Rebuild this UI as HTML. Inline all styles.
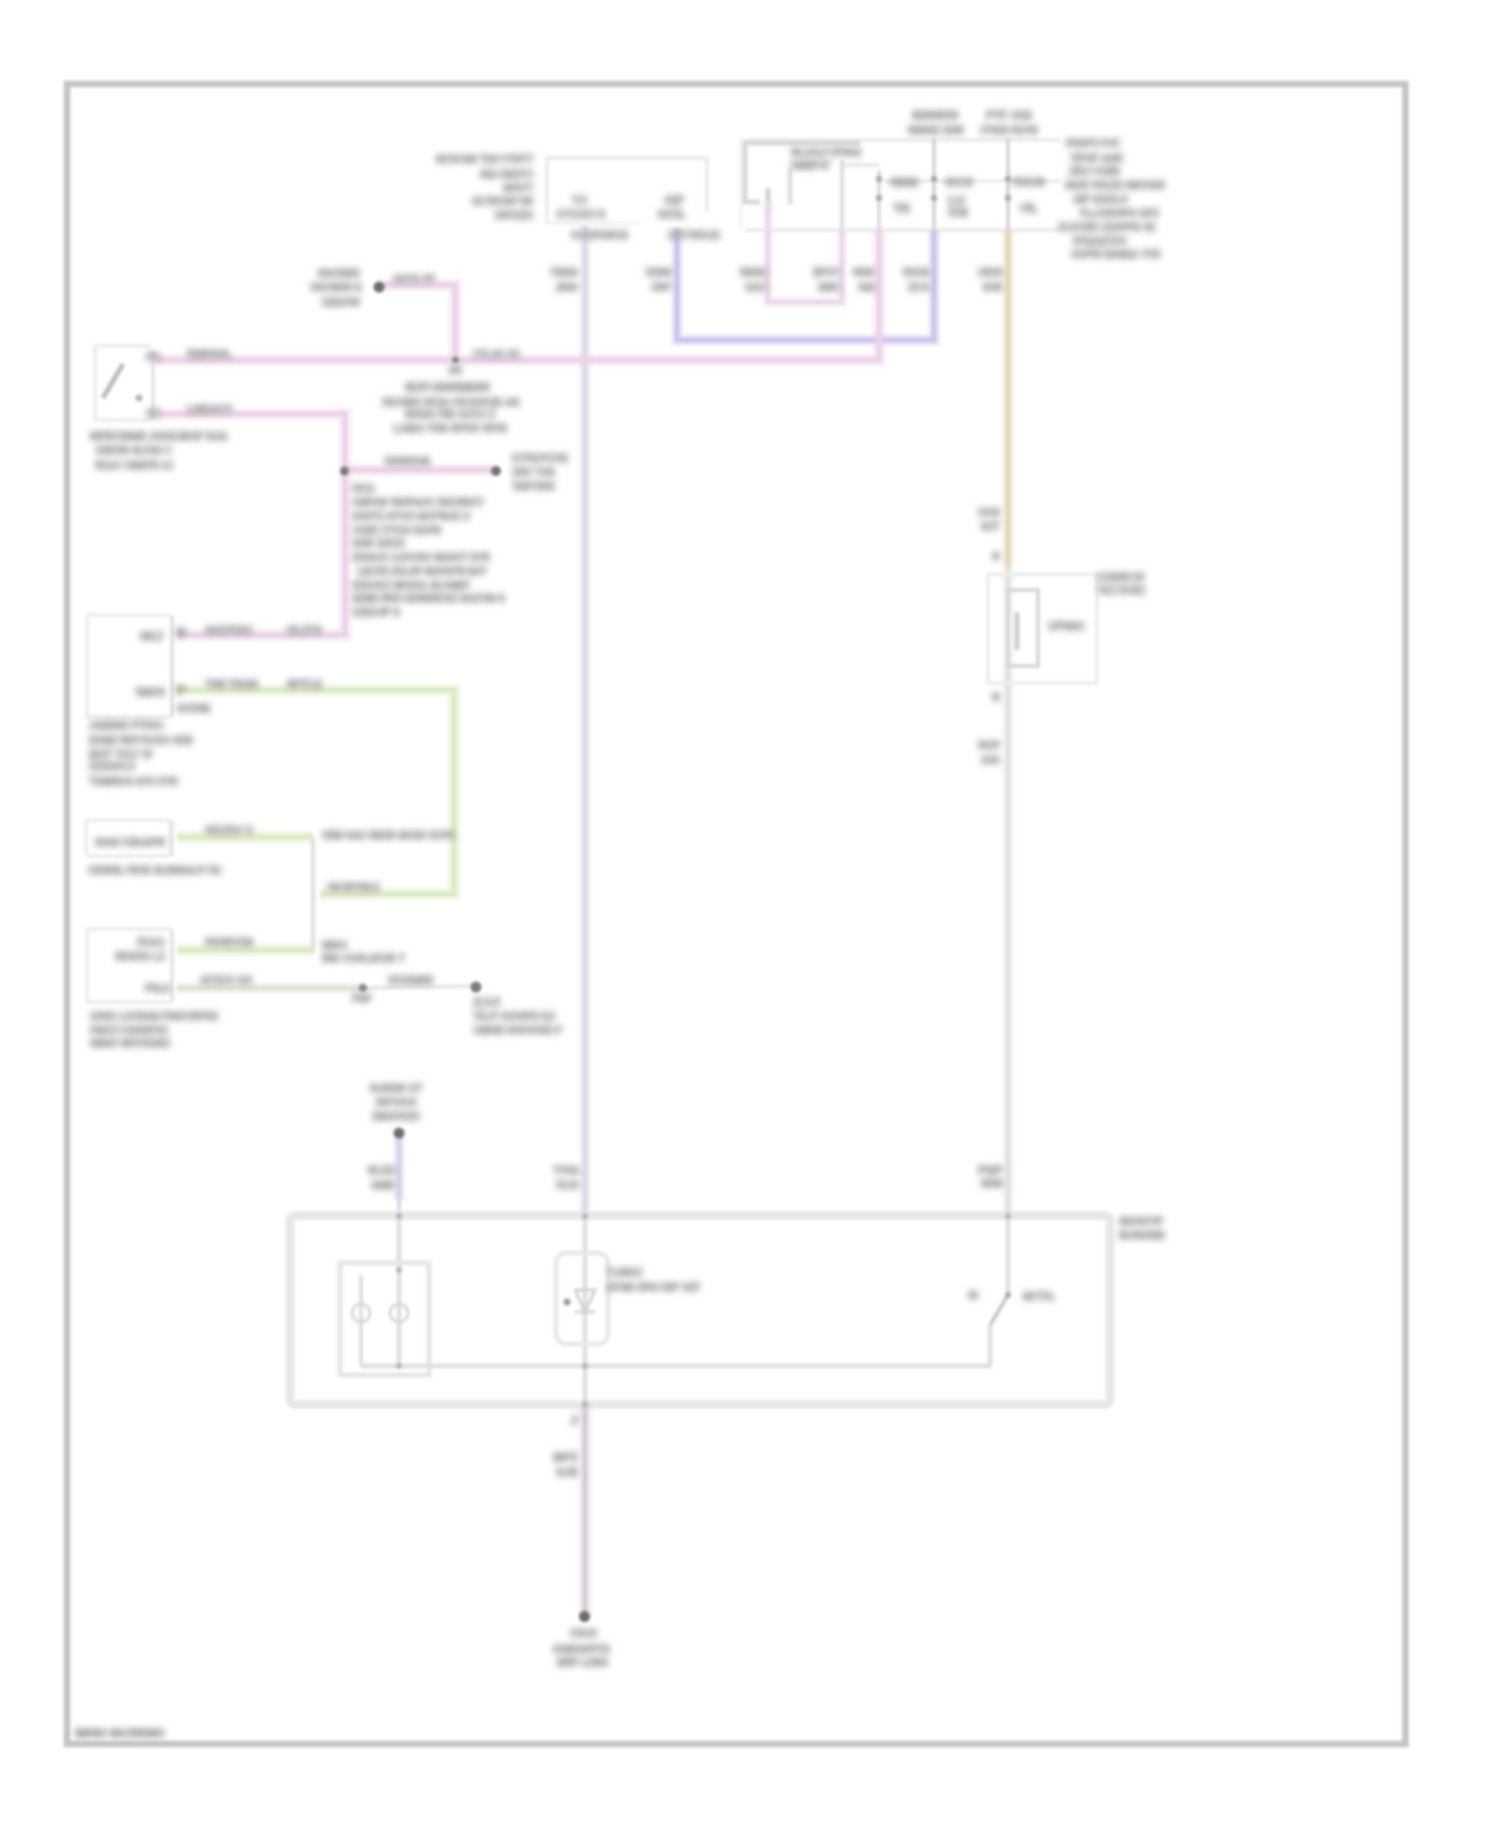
<!DOCTYPE html>
<html><head><meta charset="utf-8"><style>
html,body{margin:0;padding:0;background:#fff;width:1500px;height:1828px;overflow:hidden}
svg{display:block;position:absolute;left:0;top:0}
#L{filter:blur(1.8px)}

text{font-family:"Liberation Sans",sans-serif}
</style></head><body>
<svg id="L" width="1500" height="1828" viewBox="0 0 1500 1828">
<rect x="67" y="84" width="1338.5" height="1660" rx="0" fill="none" stroke="#c4c4c4" stroke-width="6.5" opacity="1"/>
<polyline points="547,224 547,158 707,158 707,212" fill="none" stroke="#ececec" stroke-width="4" opacity="1" stroke-linejoin="miter"/>
<line x1="547" y1="223" x2="640" y2="223" stroke="#f0f0f0" stroke-width="3" opacity="1"/>
<line x1="745" y1="140" x2="1060" y2="140" stroke="#ececec" stroke-width="4" opacity="1"/>
<line x1="745" y1="230" x2="1060" y2="230" stroke="#ececec" stroke-width="4" opacity="1"/>
<polyline points="760,202 745,202 745,143 860,143" fill="none" stroke="#d8d8d8" stroke-width="5" opacity="1" stroke-linejoin="miter"/>
<line x1="741" y1="138" x2="741" y2="230" stroke="#f0f0f0" stroke-width="3" opacity="1"/>
<line x1="790" y1="168" x2="790" y2="205" stroke="#e0e0e0" stroke-width="5" opacity="1"/>
<line x1="768" y1="188" x2="768" y2="214" stroke="#d2d2d2" stroke-width="5" opacity="1"/>
<line x1="842" y1="165" x2="879" y2="165" stroke="#e6e6e6" stroke-width="3.5" opacity="1"/>
<line x1="842" y1="160" x2="842" y2="230" stroke="#dedede" stroke-width="4" opacity="1"/>
<line x1="879" y1="170" x2="879" y2="230" stroke="#dedede" stroke-width="4" opacity="1"/>
<line x1="934" y1="138" x2="934" y2="230" stroke="#d6d6d6" stroke-width="4" opacity="1"/>
<line x1="1008" y1="138" x2="1008" y2="230" stroke="#d6d6d6" stroke-width="4" opacity="1"/>
<line x1="884" y1="181" x2="1060" y2="181" stroke="#e8e8e8" stroke-width="3" opacity="1"/>
<line x1="585" y1="226" x2="585" y2="1216" stroke="#dddae8" stroke-width="12.0" opacity="0.35"/>
<line x1="585" y1="226" x2="585" y2="1216" stroke="#dddae8" stroke-width="5" opacity="1"/>
<polyline points="677,228 677,340 934,340 934,230" fill="none" stroke="#cbc2ec" stroke-width="12.0" opacity="0.35" stroke-linejoin="miter"/>
<polyline points="677,228 677,340 934,340 934,230" fill="none" stroke="#cbc2ec" stroke-width="5" opacity="1" stroke-linejoin="miter"/>
<polyline points="768,200 768,302 842,302 842,230" fill="none" stroke="#ead6ea" stroke-width="10.799999999999999" opacity="0.3" stroke-linejoin="miter"/>
<polyline points="768,200 768,302 842,302 842,230" fill="none" stroke="#ead6ea" stroke-width="4.5" opacity="1" stroke-linejoin="miter"/>
<polyline points="157,360 879,360 879,230" fill="none" stroke="#ecd2e8" stroke-width="13.2" opacity="0.35" stroke-linejoin="miter"/>
<polyline points="157,360 879,360 879,230" fill="none" stroke="#ecd2e8" stroke-width="5.5" opacity="1" stroke-linejoin="miter"/>
<line x1="1008" y1="230" x2="1008" y2="566" stroke="#e8d4b8" stroke-width="12.0" opacity="0.35"/>
<line x1="1008" y1="230" x2="1008" y2="566" stroke="#e8d4b8" stroke-width="5" opacity="1"/>
<line x1="1008" y1="566" x2="1008" y2="1216" stroke="#e2e0dc" stroke-width="12.0" opacity="0.3"/>
<line x1="1008" y1="566" x2="1008" y2="1216" stroke="#e2e0dc" stroke-width="5" opacity="1"/>
<polyline points="379,285 455,285 455,360" fill="none" stroke="#ecd2e8" stroke-width="13.2" opacity="0.35" stroke-linejoin="miter"/>
<polyline points="379,285 455,285 455,360" fill="none" stroke="#ecd2e8" stroke-width="5.5" opacity="1" stroke-linejoin="miter"/>
<polyline points="150,346 95,346 95,420 150,420" fill="none" stroke="#eeeeee" stroke-width="4" opacity="1" stroke-linejoin="miter"/>
<line x1="103" y1="398" x2="123" y2="364" stroke="#bcbcbc" stroke-width="5" opacity="1"/>
<line x1="153" y1="350" x2="153" y2="420" stroke="#e6e6e6" stroke-width="4" opacity="1"/>
<polyline points="157,414 345,414 345,635 177,635" fill="none" stroke="#ecd2e8" stroke-width="13.2" opacity="0.35" stroke-linejoin="miter"/>
<polyline points="157,414 345,414 345,635 177,635" fill="none" stroke="#ecd2e8" stroke-width="5.5" opacity="1" stroke-linejoin="miter"/>
<line x1="345" y1="470" x2="495" y2="470" stroke="#ecd2e8" stroke-width="13.2" opacity="0.35"/>
<line x1="345" y1="470" x2="495" y2="470" stroke="#ecd2e8" stroke-width="5.5" opacity="1"/>
<polyline points="170,615 87,615 87,717 170,717" fill="none" stroke="#ececec" stroke-width="3.5" opacity="1" stroke-linejoin="miter"/>
<line x1="172" y1="615" x2="172" y2="717" stroke="#e0e0e0" stroke-width="4" opacity="1"/>
<polyline points="177,690 454,690 454,894 320,894" fill="none" stroke="#dcebc4" stroke-width="13.2" opacity="0.35" stroke-linejoin="miter"/>
<polyline points="177,690 454,690 454,894 320,894" fill="none" stroke="#dcebc4" stroke-width="5.5" opacity="1" stroke-linejoin="miter"/>
<rect x="86" y="820" width="84" height="36" rx="3" fill="none" stroke="#ececec" stroke-width="3.5" opacity="1"/>
<line x1="172" y1="820" x2="172" y2="856" stroke="#e6e6e6" stroke-width="4" opacity="1"/>
<line x1="177" y1="837" x2="313" y2="837" stroke="#dcebc4" stroke-width="13.2" opacity="0.35"/>
<line x1="177" y1="837" x2="313" y2="837" stroke="#dcebc4" stroke-width="5.5" opacity="1"/>
<line x1="313" y1="837" x2="313" y2="953" stroke="#e2e2e2" stroke-width="4.5" opacity="1"/>
<polyline points="172,929 87,929 87,1002 172,1002" fill="none" stroke="#ececec" stroke-width="3.5" opacity="1" stroke-linejoin="miter"/>
<line x1="172" y1="929" x2="172" y2="1002" stroke="#e6e6e6" stroke-width="4" opacity="1"/>
<line x1="177" y1="950" x2="313" y2="950" stroke="#dcebc4" stroke-width="13.2" opacity="0.35"/>
<line x1="177" y1="950" x2="313" y2="950" stroke="#dcebc4" stroke-width="5.5" opacity="1"/>
<line x1="177" y1="988" x2="363" y2="988" stroke="#dde2d4" stroke-width="12.0" opacity="0.3"/>
<line x1="177" y1="988" x2="363" y2="988" stroke="#dde2d4" stroke-width="5" opacity="1"/>
<line x1="363" y1="988" x2="476" y2="986" stroke="#e4e4e4" stroke-width="3.5" opacity="1"/>
<line x1="399" y1="1132" x2="399" y2="1200" stroke="#d6d0ec" stroke-width="12.0" opacity="0.35"/>
<line x1="399" y1="1132" x2="399" y2="1200" stroke="#d6d0ec" stroke-width="5" opacity="1"/>
<line x1="399" y1="1200" x2="399" y2="1216" stroke="#dcd8e4" stroke-width="4" opacity="1"/>
<rect x="290" y="1215.5" width="820" height="189.0" rx="5" fill="none" stroke="#e8e8e8" stroke-width="9" opacity="1"/>
<line x1="399" y1="1216" x2="399" y2="1366" stroke="#dedede" stroke-width="4.5" opacity="1"/>
<line x1="585" y1="1216" x2="585" y2="1404" stroke="#dedede" stroke-width="4.5" opacity="1"/>
<line x1="1008" y1="1216" x2="1008" y2="1295" stroke="#dedede" stroke-width="4.5" opacity="1"/>
<rect x="340" y="1263" width="89" height="112" rx="0" fill="none" stroke="#e6e6e6" stroke-width="5" opacity="1"/>
<line x1="361" y1="1275" x2="361" y2="1366" stroke="#dedede" stroke-width="4" opacity="1"/>
<circle cx="361" cy="1313" r="9" fill="none" stroke="#d8d8d8" stroke-width="3"/>
<circle cx="399" cy="1313" r="9" fill="none" stroke="#d8d8d8" stroke-width="3"/>
<line x1="361" y1="1366" x2="992" y2="1366" stroke="#dedede" stroke-width="4.5" opacity="1"/>
<rect x="556" y="1253" width="52" height="91" rx="10" fill="none" stroke="#e8e8e8" stroke-width="4.5" opacity="1"/>
<polyline points="575,1290 595,1290 585,1312 575,1290" fill="none" stroke="#d0d0d0" stroke-width="3" opacity="1" stroke-linejoin="miter"/>
<line x1="575" y1="1312" x2="595" y2="1312" stroke="#d0d0d0" stroke-width="3" opacity="1"/>
<line x1="1008" y1="1295" x2="990" y2="1325" stroke="#c4c4c4" stroke-width="3.5" opacity="1"/>
<line x1="990" y1="1325" x2="990" y2="1366" stroke="#dedede" stroke-width="4.5" opacity="1"/>
<line x1="585" y1="1404" x2="585" y2="1616" stroke="#d6ccd4" stroke-width="13.2" opacity="0.3"/>
<line x1="585" y1="1404" x2="585" y2="1616" stroke="#d6ccd4" stroke-width="5.5" opacity="1"/>
<rect x="988" y="574" width="109" height="109" rx="0" fill="none" stroke="#ececec" stroke-width="3.5" opacity="1"/>
<rect x="1008" y="590" width="30" height="76" rx="0" fill="none" stroke="#d8d8d8" stroke-width="4" opacity="1"/>
<line x1="1017" y1="612" x2="1017" y2="650" stroke="#cfcfcf" stroke-width="5" opacity="1"/>
<circle cx="879" cy="179" r="3.2" fill="#a8a8a8"/>
<circle cx="879" cy="198" r="3.2" fill="#acacac"/>
<circle cx="934" cy="179" r="3.2" fill="#a8a8a8"/>
<circle cx="934" cy="198" r="3.2" fill="#acacac"/>
<circle cx="1008" cy="179" r="3.2" fill="#a8a8a8"/>
<circle cx="1008" cy="198" r="3.2" fill="#acacac"/>
<circle cx="379" cy="287" r="5.5" fill="#6c6c6c"/>
<circle cx="455.5" cy="360" r="3.6" fill="#8c8c8c"/>
<circle cx="139" cy="398" r="3.5" fill="#b4b4b4"/>
<circle cx="344.5" cy="471" r="4.5" fill="#7c7c7c"/>
<circle cx="496" cy="471" r="5" fill="#747474"/>
<circle cx="363" cy="988" r="4.2" fill="#8a8a8a"/>
<circle cx="476" cy="987" r="5.5" fill="#7c7c7c"/>
<circle cx="399" cy="1133" r="5.5" fill="#707070"/>
<circle cx="567" cy="1302" r="3.5" fill="#9a9a9a"/>
<circle cx="1008" cy="1295" r="3" fill="#a8a8a8"/>
<circle cx="399" cy="1216" r="3" fill="#b4b4b4"/>
<circle cx="585" cy="1216" r="3" fill="#b4b4b4"/>
<circle cx="1008" cy="1216" r="3" fill="#b4b4b4"/>
<circle cx="399" cy="1270" r="3" fill="#b4b4b4"/>
<circle cx="399" cy="1366" r="3" fill="#b4b4b4"/>
<circle cx="585" cy="1366" r="3" fill="#b4b4b4"/>
<circle cx="585" cy="1404" r="3" fill="#b4b4b4"/>
<circle cx="584.5" cy="1616.5" r="5.5" fill="#6c6c6c"/>
</svg>
<svg id="T" width="1500" height="1828" viewBox="0 0 1500 1828">
<defs><filter id="tb" x="0" y="0" width="1500" height="1828" filterUnits="userSpaceOnUse"><feGaussianBlur stdDeviation="3.2 3.3"/></filter></defs>
<g filter="url(#tb)">
<text x="75" y="1737.2" textLength="90" lengthAdjust="spacingAndGlyphs" fill="#a0a0a0" stroke="#a0a0a0" stroke-width="1.3" font-size="10.5" font-weight="bold">EMVBC SDLTBRGBC</text>
<text x="436" y="163.2" textLength="97" lengthAdjust="spacingAndGlyphs" fill="#a8a8a8" stroke="#a8a8a8" stroke-width="1.3" font-size="10.5" font-weight="bold">NCHCSN TDH VTBTT</text>
<text x="480" y="178.2" textLength="53" lengthAdjust="spacingAndGlyphs" fill="#a8a8a8" stroke="#a8a8a8" stroke-width="1.3" font-size="10.5" font-weight="bold">SEJ ESDTJ</text>
<text x="503" y="192.2" textLength="30" lengthAdjust="spacingAndGlyphs" fill="#a8a8a8" stroke="#a8a8a8" stroke-width="1.3" font-size="10.5" font-weight="bold">WFDTT</text>
<text x="472" y="205.2" textLength="61" lengthAdjust="spacingAndGlyphs" fill="#a8a8a8" stroke="#a8a8a8" stroke-width="1.3" font-size="10.5" font-weight="bold">XCTBUGP SN</text>
<text x="495" y="219.2" textLength="38" lengthAdjust="spacingAndGlyphs" fill="#a8a8a8" stroke="#a8a8a8" stroke-width="1.3" font-size="10.5" font-weight="bold">HFXZH</text>
<text x="572" y="204.2" textLength="15" lengthAdjust="spacingAndGlyphs" fill="#a8a8a8" stroke="#a8a8a8" stroke-width="1.3" font-size="10.5" font-weight="bold">TJ</text>
<text x="557" y="218.2" textLength="48" lengthAdjust="spacingAndGlyphs" fill="#a8a8a8" stroke="#a8a8a8" stroke-width="1.3" font-size="10.5" font-weight="bold">KYOJUC R</text>
<text x="665" y="204.2" textLength="19" lengthAdjust="spacingAndGlyphs" fill="#a8a8a8" stroke="#a8a8a8" stroke-width="1.3" font-size="10.5" font-weight="bold">KEP</text>
<text x="658" y="218.2" textLength="28" lengthAdjust="spacingAndGlyphs" fill="#a8a8a8" stroke="#a8a8a8" stroke-width="1.3" font-size="10.5" font-weight="bold">KKXL</text>
<text x="571" y="239.2" textLength="57" lengthAdjust="spacingAndGlyphs" fill="#a8a8a8" stroke="#a8a8a8" stroke-width="1.3" font-size="10.5" font-weight="bold">OCCIPXWCB</text>
<text x="668" y="239.2" textLength="52" lengthAdjust="spacingAndGlyphs" fill="#a8a8a8" stroke="#a8a8a8" stroke-width="1.3" font-size="10.5" font-weight="bold">XJVTWOJX</text>
<text x="791" y="156.2" textLength="70" lengthAdjust="spacingAndGlyphs" fill="#a8a8a8" stroke="#a8a8a8" stroke-width="1.3" font-size="10.5" font-weight="bold">WLAOLF DPBGZ</text>
<text x="791" y="169.2" textLength="39" lengthAdjust="spacingAndGlyphs" fill="#a8a8a8" stroke="#a8a8a8" stroke-width="1.3" font-size="10.5" font-weight="bold">HMMPCF</text>
<text x="912" y="119.2" textLength="46" lengthAdjust="spacingAndGlyphs" fill="#a8a8a8" stroke="#a8a8a8" stroke-width="1.3" font-size="10.5" font-weight="bold">IENSIXN</text>
<text x="908" y="134.2" textLength="56" lengthAdjust="spacingAndGlyphs" fill="#a8a8a8" stroke="#a8a8a8" stroke-width="1.3" font-size="10.5" font-weight="bold">WMHEC EHW</text>
<text x="986" y="119.2" textLength="46" lengthAdjust="spacingAndGlyphs" fill="#a8a8a8" stroke="#a8a8a8" stroke-width="1.3" font-size="10.5" font-weight="bold">PTF JAE</text>
<text x="980" y="134.2" textLength="58" lengthAdjust="spacingAndGlyphs" fill="#a8a8a8" stroke="#a8a8a8" stroke-width="1.3" font-size="10.5" font-weight="bold">UTKEX RUVW</text>
<text x="890" y="186.2" textLength="28" lengthAdjust="spacingAndGlyphs" fill="#a8a8a8" stroke="#a8a8a8" stroke-width="1.3" font-size="10.5" font-weight="bold">SMMM</text>
<text x="945" y="186.2" textLength="28" lengthAdjust="spacingAndGlyphs" fill="#a8a8a8" stroke="#a8a8a8" stroke-width="1.3" font-size="10.5" font-weight="bold">GCG</text>
<text x="1012" y="186.2" textLength="33" lengthAdjust="spacingAndGlyphs" fill="#a8a8a8" stroke="#a8a8a8" stroke-width="1.3" font-size="10.5" font-weight="bold">FDKUB</text>
<text x="893" y="212.2" textLength="17" lengthAdjust="spacingAndGlyphs" fill="#a8a8a8" stroke="#a8a8a8" stroke-width="1.3" font-size="10.5" font-weight="bold">TE</text>
<text x="948" y="204.2" textLength="17" lengthAdjust="spacingAndGlyphs" fill="#a8a8a8" stroke="#a8a8a8" stroke-width="1.3" font-size="10.5" font-weight="bold">LU</text>
<text x="948" y="216.2" textLength="20" lengthAdjust="spacingAndGlyphs" fill="#a8a8a8" stroke="#a8a8a8" stroke-width="1.3" font-size="10.5" font-weight="bold">GUM</text>
<text x="1020" y="212.2" textLength="18" lengthAdjust="spacingAndGlyphs" fill="#a8a8a8" stroke="#a8a8a8" stroke-width="1.3" font-size="10.5" font-weight="bold">VIL</text>
<text x="1066" y="147.2" textLength="54" lengthAdjust="spacingAndGlyphs" fill="#a8a8a8" stroke="#a8a8a8" stroke-width="1.3" font-size="10.5" font-weight="bold">PDDPO PJC</text>
<text x="1070" y="161.7" textLength="53" lengthAdjust="spacingAndGlyphs" fill="#a8a8a8" stroke="#a8a8a8" stroke-width="1.3" font-size="10.5" font-weight="bold">YIPXF AGR</text>
<text x="1069" y="175.2" textLength="51" lengthAdjust="spacingAndGlyphs" fill="#a8a8a8" stroke="#a8a8a8" stroke-width="1.3" font-size="10.5" font-weight="bold">ZRJ CXIR</text>
<text x="1065" y="188.7" textLength="100" lengthAdjust="spacingAndGlyphs" fill="#a8a8a8" stroke="#a8a8a8" stroke-width="1.3" font-size="10.5" font-weight="bold">SSZR VHUZG HMYHGR</text>
<text x="1073" y="202.7" textLength="55" lengthAdjust="spacingAndGlyphs" fill="#a8a8a8" stroke="#a8a8a8" stroke-width="1.3" font-size="10.5" font-weight="bold">AIP GXULO</text>
<text x="1079" y="216.7" textLength="80" lengthAdjust="spacingAndGlyphs" fill="#a8a8a8" stroke="#a8a8a8" stroke-width="1.3" font-size="10.5" font-weight="bold">YLLCHDHPG GPU</text>
<text x="1058" y="230.7" textLength="98" lengthAdjust="spacingAndGlyphs" fill="#a8a8a8" stroke="#a8a8a8" stroke-width="1.3" font-size="10.5" font-weight="bold">VLVCWD XZGPFN VK</text>
<text x="1073" y="245.2" textLength="54" lengthAdjust="spacingAndGlyphs" fill="#a8a8a8" stroke="#a8a8a8" stroke-width="1.3" font-size="10.5" font-weight="bold">FFEAETOV</text>
<text x="1071" y="257.7" textLength="90" lengthAdjust="spacingAndGlyphs" fill="#a8a8a8" stroke="#a8a8a8" stroke-width="1.3" font-size="10.5" font-weight="bold">UUPW ESSEA YVD</text>
<text x="550" y="276.2" textLength="28" lengthAdjust="spacingAndGlyphs" fill="#a8a8a8" stroke="#a8a8a8" stroke-width="1.3" font-size="10.5" font-weight="bold">YENG</text>
<text x="555" y="291.2" textLength="23" lengthAdjust="spacingAndGlyphs" fill="#a8a8a8" stroke="#a8a8a8" stroke-width="1.3" font-size="10.5" font-weight="bold">JRH</text>
<text x="646" y="276.2" textLength="26" lengthAdjust="spacingAndGlyphs" fill="#a8a8a8" stroke="#a8a8a8" stroke-width="1.3" font-size="10.5" font-weight="bold">KISN</text>
<text x="651" y="291.2" textLength="21" lengthAdjust="spacingAndGlyphs" fill="#a8a8a8" stroke="#a8a8a8" stroke-width="1.3" font-size="10.5" font-weight="bold">OWT</text>
<text x="740" y="276.2" textLength="26" lengthAdjust="spacingAndGlyphs" fill="#a8a8a8" stroke="#a8a8a8" stroke-width="1.3" font-size="10.5" font-weight="bold">RESE</text>
<text x="745" y="291.2" textLength="21" lengthAdjust="spacingAndGlyphs" fill="#a8a8a8" stroke="#a8a8a8" stroke-width="1.3" font-size="10.5" font-weight="bold">UAZ</text>
<text x="813" y="276.2" textLength="27" lengthAdjust="spacingAndGlyphs" fill="#a8a8a8" stroke="#a8a8a8" stroke-width="1.3" font-size="10.5" font-weight="bold">EPUY</text>
<text x="818" y="291.2" textLength="22" lengthAdjust="spacingAndGlyphs" fill="#a8a8a8" stroke="#a8a8a8" stroke-width="1.3" font-size="10.5" font-weight="bold">SBK</text>
<text x="853" y="276.2" textLength="22" lengthAdjust="spacingAndGlyphs" fill="#a8a8a8" stroke="#a8a8a8" stroke-width="1.3" font-size="10.5" font-weight="bold">RRS</text>
<text x="858" y="291.2" textLength="17" lengthAdjust="spacingAndGlyphs" fill="#a8a8a8" stroke="#a8a8a8" stroke-width="1.3" font-size="10.5" font-weight="bold">GI</text>
<text x="903" y="276.2" textLength="27" lengthAdjust="spacingAndGlyphs" fill="#a8a8a8" stroke="#a8a8a8" stroke-width="1.3" font-size="10.5" font-weight="bold">ROS</text>
<text x="908" y="291.2" textLength="22" lengthAdjust="spacingAndGlyphs" fill="#a8a8a8" stroke="#a8a8a8" stroke-width="1.3" font-size="10.5" font-weight="bold">ZCO</text>
<text x="978" y="276.2" textLength="25" lengthAdjust="spacingAndGlyphs" fill="#a8a8a8" stroke="#a8a8a8" stroke-width="1.3" font-size="10.5" font-weight="bold">URUR</text>
<text x="983" y="291.2" textLength="20" lengthAdjust="spacingAndGlyphs" fill="#a8a8a8" stroke="#a8a8a8" stroke-width="1.3" font-size="10.5" font-weight="bold">IOR</text>
<text x="318" y="277.2" textLength="42" lengthAdjust="spacingAndGlyphs" fill="#a8a8a8" stroke="#a8a8a8" stroke-width="1.3" font-size="10.5" font-weight="bold">ISGOEND</text>
<text x="310" y="291.2" textLength="52" lengthAdjust="spacingAndGlyphs" fill="#a8a8a8" stroke="#a8a8a8" stroke-width="1.3" font-size="10.5" font-weight="bold">OKCWHN G</text>
<text x="322" y="306.2" textLength="38" lengthAdjust="spacingAndGlyphs" fill="#a8a8a8" stroke="#a8a8a8" stroke-width="1.3" font-size="10.5" font-weight="bold">DZEXVW</text>
<text x="393" y="283.2" textLength="42" lengthAdjust="spacingAndGlyphs" fill="#a8a8a8" stroke="#a8a8a8" stroke-width="1.3" font-size="10.5" font-weight="bold">OHYD PF</text>
<text x="187" y="358.2" textLength="45" lengthAdjust="spacingAndGlyphs" fill="#a8a8a8" stroke="#a8a8a8" stroke-width="1.3" font-size="10.5" font-weight="bold">RMKNGL</text>
<text x="473" y="358.2" textLength="47" lengthAdjust="spacingAndGlyphs" fill="#a8a8a8" stroke="#a8a8a8" stroke-width="1.3" font-size="10.5" font-weight="bold">CYLAK OO</text>
<text x="448" y="374.2" textLength="14" lengthAdjust="spacingAndGlyphs" fill="#a8a8a8" stroke="#a8a8a8" stroke-width="1.3" font-size="10.5" font-weight="bold">JR</text>
<text x="405" y="391.2" textLength="85" lengthAdjust="spacingAndGlyphs" fill="#a8a8a8" stroke="#a8a8a8" stroke-width="1.3" font-size="10.5" font-weight="bold">IBZFI ENWIMESR</text>
<text x="382" y="406.2" textLength="138" lengthAdjust="spacingAndGlyphs" fill="#a8a8a8" stroke="#a8a8a8" stroke-width="1.3" font-size="10.5" font-weight="bold">XKCIBX NCIA CICUHCID AK</text>
<text x="405" y="418.2" textLength="90" lengthAdjust="spacingAndGlyphs" fill="#a8a8a8" stroke="#a8a8a8" stroke-width="1.3" font-size="10.5" font-weight="bold">BRXH FIB GJVJ Z</text>
<text x="393" y="432.2" textLength="114" lengthAdjust="spacingAndGlyphs" fill="#a8a8a8" stroke="#a8a8a8" stroke-width="1.3" font-size="10.5" font-weight="bold">LAIBA YRS RPHO WVN</text>
<text x="146" y="361.2" textLength="14" lengthAdjust="spacingAndGlyphs" fill="#a8a8a8" stroke="#a8a8a8" stroke-width="1.3" font-size="10.5" font-weight="bold">PS</text>
<text x="146" y="417.2" textLength="14" lengthAdjust="spacingAndGlyphs" fill="#a8a8a8" stroke="#a8a8a8" stroke-width="1.3" font-size="10.5" font-weight="bold">GX</text>
<text x="187" y="413.2" textLength="45" lengthAdjust="spacingAndGlyphs" fill="#a8a8a8" stroke="#a8a8a8" stroke-width="1.3" font-size="10.5" font-weight="bold">LBEACV</text>
<text x="90" y="440.2" textLength="137" lengthAdjust="spacingAndGlyphs" fill="#a8a8a8" stroke="#a8a8a8" stroke-width="1.3" font-size="10.5" font-weight="bold">INFBCWMR JUHXJBOF IOAI</text>
<text x="96" y="454.2" textLength="76" lengthAdjust="spacingAndGlyphs" fill="#a8a8a8" stroke="#a8a8a8" stroke-width="1.3" font-size="10.5" font-weight="bold">KSKHB GLFAK C</text>
<text x="95" y="469.2" textLength="78" lengthAdjust="spacingAndGlyphs" fill="#a8a8a8" stroke="#a8a8a8" stroke-width="1.3" font-size="10.5" font-weight="bold">RZAC CEMTB AJ</text>
<text x="385" y="465.2" textLength="45" lengthAdjust="spacingAndGlyphs" fill="#a8a8a8" stroke="#a8a8a8" stroke-width="1.3" font-size="10.5" font-weight="bold">RZEWXUM</text>
<text x="512" y="462.2" textLength="56" lengthAdjust="spacingAndGlyphs" fill="#a8a8a8" stroke="#a8a8a8" stroke-width="1.3" font-size="10.5" font-weight="bold">KYPEJYUVE</text>
<text x="512" y="476.2" textLength="43" lengthAdjust="spacingAndGlyphs" fill="#a8a8a8" stroke="#a8a8a8" stroke-width="1.3" font-size="10.5" font-weight="bold">XRV YXR</text>
<text x="512" y="490.2" textLength="43" lengthAdjust="spacingAndGlyphs" fill="#a8a8a8" stroke="#a8a8a8" stroke-width="1.3" font-size="10.5" font-weight="bold">TAWTXWX</text>
<text x="352" y="492.2" textLength="23" lengthAdjust="spacingAndGlyphs" fill="#a8a8a8" stroke="#a8a8a8" stroke-width="1.3" font-size="10.5" font-weight="bold">HCA</text>
<text x="352" y="506.2" textLength="132" lengthAdjust="spacingAndGlyphs" fill="#a8a8a8" stroke="#a8a8a8" stroke-width="1.3" font-size="10.5" font-weight="bold">OSBVAV WHPIAOC RSCWRCY</text>
<text x="352" y="520.2" textLength="118" lengthAdjust="spacingAndGlyphs" fill="#a8a8a8" stroke="#a8a8a8" stroke-width="1.3" font-size="10.5" font-weight="bold">ICIHYZ HYVO MCPWJZ U</text>
<text x="352" y="534.2" textLength="89" lengthAdjust="spacingAndGlyphs" fill="#a8a8a8" stroke="#a8a8a8" stroke-width="1.3" font-size="10.5" font-weight="bold">CUEK VYXJU EAPB</text>
<text x="352" y="547.2" textLength="53" lengthAdjust="spacingAndGlyphs" fill="#a8a8a8" stroke="#a8a8a8" stroke-width="1.3" font-size="10.5" font-weight="bold">XGW JXRJO</text>
<text x="352" y="561.2" textLength="138" lengthAdjust="spacingAndGlyphs" fill="#a8a8a8" stroke="#a8a8a8" stroke-width="1.3" font-size="10.5" font-weight="bold">ZDSGJC AJOCRO MGGCT EYR</text>
<text x="357" y="575.2" textLength="130" lengthAdjust="spacingAndGlyphs" fill="#a8a8a8" stroke="#a8a8a8" stroke-width="1.3" font-size="10.5" font-weight="bold">LEUVR DXLHP MAFAPW MJY</text>
<text x="352" y="589.2" textLength="118" lengthAdjust="spacingAndGlyphs" fill="#a8a8a8" stroke="#a8a8a8" stroke-width="1.3" font-size="10.5" font-weight="bold">KDKAKZ MDGXA JILCMMT</text>
<text x="352" y="602.2" textLength="153" lengthAdjust="spacingAndGlyphs" fill="#a8a8a8" stroke="#a8a8a8" stroke-width="1.3" font-size="10.5" font-weight="bold">NZIBI BWJ EHINRKGZ NAZVM S</text>
<text x="352" y="616.2" textLength="48" lengthAdjust="spacingAndGlyphs" fill="#a8a8a8" stroke="#a8a8a8" stroke-width="1.3" font-size="10.5" font-weight="bold">UZEVJP S</text>
<text x="140" y="640.2" textLength="23" lengthAdjust="spacingAndGlyphs" fill="#a8a8a8" stroke="#a8a8a8" stroke-width="1.3" font-size="10.5" font-weight="bold">NKJ</text>
<text x="135" y="696.2" textLength="30" lengthAdjust="spacingAndGlyphs" fill="#a8a8a8" stroke="#a8a8a8" stroke-width="1.3" font-size="10.5" font-weight="bold">VIMVH</text>
<text x="176" y="636.2" textLength="10" lengthAdjust="spacingAndGlyphs" fill="#a8a8a8" stroke="#a8a8a8" stroke-width="1.3" font-size="10.5" font-weight="bold">M</text>
<text x="176" y="694.2" textLength="10" lengthAdjust="spacingAndGlyphs" fill="#a8a8a8" stroke="#a8a8a8" stroke-width="1.3" font-size="10.5" font-weight="bold">P</text>
<text x="205" y="634.2" textLength="48" lengthAdjust="spacingAndGlyphs" fill="#a8a8a8" stroke="#a8a8a8" stroke-width="1.3" font-size="10.5" font-weight="bold">GHCFKSC</text>
<text x="287" y="634.2" textLength="35" lengthAdjust="spacingAndGlyphs" fill="#a8a8a8" stroke="#a8a8a8" stroke-width="1.3" font-size="10.5" font-weight="bold">HLITG</text>
<text x="205" y="688.2" textLength="53" lengthAdjust="spacingAndGlyphs" fill="#a8a8a8" stroke="#a8a8a8" stroke-width="1.3" font-size="10.5" font-weight="bold">YNM YRGMI</text>
<text x="287" y="688.2" textLength="35" lengthAdjust="spacingAndGlyphs" fill="#a8a8a8" stroke="#a8a8a8" stroke-width="1.3" font-size="10.5" font-weight="bold">BPITLE</text>
<text x="177" y="712.2" textLength="33" lengthAdjust="spacingAndGlyphs" fill="#a8a8a8" stroke="#a8a8a8" stroke-width="1.3" font-size="10.5" font-weight="bold">GCIHM</text>
<text x="89" y="729.2" textLength="75" lengthAdjust="spacingAndGlyphs" fill="#a8a8a8" stroke="#a8a8a8" stroke-width="1.3" font-size="10.5" font-weight="bold">JAEBNX PTPAC</text>
<text x="89" y="744.2" textLength="104" lengthAdjust="spacingAndGlyphs" fill="#a8a8a8" stroke="#a8a8a8" stroke-width="1.3" font-size="10.5" font-weight="bold">DHEE WDYXVZO SZB</text>
<text x="89" y="758.2" textLength="63" lengthAdjust="spacingAndGlyphs" fill="#a8a8a8" stroke="#a8a8a8" stroke-width="1.3" font-size="10.5" font-weight="bold">EHT VXJ VI</text>
<text x="89" y="770.2" textLength="46" lengthAdjust="spacingAndGlyphs" fill="#a8a8a8" stroke="#a8a8a8" stroke-width="1.3" font-size="10.5" font-weight="bold">XZDDCJ</text>
<text x="89" y="785.2" textLength="89" lengthAdjust="spacingAndGlyphs" fill="#a8a8a8" stroke="#a8a8a8" stroke-width="1.3" font-size="10.5" font-weight="bold">TGMIHUA SJO KVH</text>
<text x="95" y="846.2" textLength="70" lengthAdjust="spacingAndGlyphs" fill="#a8a8a8" stroke="#a8a8a8" stroke-width="1.3" font-size="10.5" font-weight="bold">SHAN VJBAGPW</text>
<text x="88" y="874.2" textLength="134" lengthAdjust="spacingAndGlyphs" fill="#a8a8a8" stroke="#a8a8a8" stroke-width="1.3" font-size="10.5" font-weight="bold">CIHWNL PBXK NLWMGAJY RC</text>
<text x="205" y="834.2" textLength="48" lengthAdjust="spacingAndGlyphs" fill="#a8a8a8" stroke="#a8a8a8" stroke-width="1.3" font-size="10.5" font-weight="bold">HIZJDU U</text>
<text x="322" y="839.2" textLength="133" lengthAdjust="spacingAndGlyphs" fill="#a8a8a8" stroke="#a8a8a8" stroke-width="1.3" font-size="10.5" font-weight="bold">UEM GAU NBXB MOXK DCFK</text>
<text x="327" y="891.2" textLength="53" lengthAdjust="spacingAndGlyphs" fill="#a8a8a8" stroke="#a8a8a8" stroke-width="1.3" font-size="10.5" font-weight="bold">OBJWYMLK</text>
<text x="137" y="946.2" textLength="28" lengthAdjust="spacingAndGlyphs" fill="#a8a8a8" stroke="#a8a8a8" stroke-width="1.3" font-size="10.5" font-weight="bold">FDAC</text>
<text x="115" y="960.2" textLength="50" lengthAdjust="spacingAndGlyphs" fill="#a8a8a8" stroke="#a8a8a8" stroke-width="1.3" font-size="10.5" font-weight="bold">NDSZG LZ</text>
<text x="145" y="992.2" textLength="25" lengthAdjust="spacingAndGlyphs" fill="#a8a8a8" stroke="#a8a8a8" stroke-width="1.3" font-size="10.5" font-weight="bold">PGLS</text>
<text x="205" y="946.2" textLength="48" lengthAdjust="spacingAndGlyphs" fill="#a8a8a8" stroke="#a8a8a8" stroke-width="1.3" font-size="10.5" font-weight="bold">PAVNHVZM</text>
<text x="322" y="949.2" textLength="25" lengthAdjust="spacingAndGlyphs" fill="#a8a8a8" stroke="#a8a8a8" stroke-width="1.3" font-size="10.5" font-weight="bold">MBO</text>
<text x="322" y="962.2" textLength="83" lengthAdjust="spacingAndGlyphs" fill="#a8a8a8" stroke="#a8a8a8" stroke-width="1.3" font-size="10.5" font-weight="bold">BIG CUKLIKUB Y</text>
<text x="200" y="984.2" textLength="52" lengthAdjust="spacingAndGlyphs" fill="#a8a8a8" stroke="#a8a8a8" stroke-width="1.3" font-size="10.5" font-weight="bold">AYZUV AH</text>
<text x="388" y="984.2" textLength="45" lengthAdjust="spacingAndGlyphs" fill="#a8a8a8" stroke="#a8a8a8" stroke-width="1.3" font-size="10.5" font-weight="bold">XOZMIN</text>
<text x="352" y="1002.2" textLength="20" lengthAdjust="spacingAndGlyphs" fill="#a8a8a8" stroke="#a8a8a8" stroke-width="1.3" font-size="10.5" font-weight="bold">PEP</text>
<text x="90" y="1020.2" textLength="128" lengthAdjust="spacingAndGlyphs" fill="#a8a8a8" stroke="#a8a8a8" stroke-width="1.3" font-size="10.5" font-weight="bold">UHKK LUCRGM FHNCVBPSS</text>
<text x="90" y="1034.2" textLength="78" lengthAdjust="spacingAndGlyphs" fill="#a8a8a8" stroke="#a8a8a8" stroke-width="1.3" font-size="10.5" font-weight="bold">FNDCI CGDNPXO</text>
<text x="90" y="1047.2" textLength="80" lengthAdjust="spacingAndGlyphs" fill="#a8a8a8" stroke="#a8a8a8" stroke-width="1.3" font-size="10.5" font-weight="bold">HENO WHYSZWZ</text>
<text x="473" y="1006.2" textLength="27" lengthAdjust="spacingAndGlyphs" fill="#a8a8a8" stroke="#a8a8a8" stroke-width="1.3" font-size="10.5" font-weight="bold">ZJJ</text>
<text x="473" y="1020.2" textLength="82" lengthAdjust="spacingAndGlyphs" fill="#a8a8a8" stroke="#a8a8a8" stroke-width="1.3" font-size="10.5" font-weight="bold">TILIY GOHFH EJ</text>
<text x="473" y="1034.2" textLength="89" lengthAdjust="spacingAndGlyphs" fill="#a8a8a8" stroke="#a8a8a8" stroke-width="1.3" font-size="10.5" font-weight="bold">CMIHR HVDVOBD P</text>
<text x="370" y="1092.2" textLength="52" lengthAdjust="spacingAndGlyphs" fill="#a8a8a8" stroke="#a8a8a8" stroke-width="1.3" font-size="10.5" font-weight="bold">BJHDB UT</text>
<text x="376" y="1106.2" textLength="40" lengthAdjust="spacingAndGlyphs" fill="#a8a8a8" stroke="#a8a8a8" stroke-width="1.3" font-size="10.5" font-weight="bold">RFOUI</text>
<text x="372" y="1120.2" textLength="48" lengthAdjust="spacingAndGlyphs" fill="#a8a8a8" stroke="#a8a8a8" stroke-width="1.3" font-size="10.5" font-weight="bold">ZWADVUXU</text>
<text x="368" y="1174.2" textLength="27" lengthAdjust="spacingAndGlyphs" fill="#a8a8a8" stroke="#a8a8a8" stroke-width="1.3" font-size="10.5" font-weight="bold">BLKE</text>
<text x="371" y="1189.2" textLength="24" lengthAdjust="spacingAndGlyphs" fill="#a8a8a8" stroke="#a8a8a8" stroke-width="1.3" font-size="10.5" font-weight="bold">GIB</text>
<text x="553" y="1174.2" textLength="27" lengthAdjust="spacingAndGlyphs" fill="#a8a8a8" stroke="#a8a8a8" stroke-width="1.3" font-size="10.5" font-weight="bold">YVGA</text>
<text x="556" y="1189.2" textLength="24" lengthAdjust="spacingAndGlyphs" fill="#a8a8a8" stroke="#a8a8a8" stroke-width="1.3" font-size="10.5" font-weight="bold">FUJC</text>
<text x="978" y="1174.2" textLength="25" lengthAdjust="spacingAndGlyphs" fill="#a8a8a8" stroke="#a8a8a8" stroke-width="1.3" font-size="10.5" font-weight="bold">PSP</text>
<text x="981" y="1187.2" textLength="22" lengthAdjust="spacingAndGlyphs" fill="#a8a8a8" stroke="#a8a8a8" stroke-width="1.3" font-size="10.5" font-weight="bold">NDM</text>
<text x="1119" y="1225.2" textLength="44" lengthAdjust="spacingAndGlyphs" fill="#a8a8a8" stroke="#a8a8a8" stroke-width="1.3" font-size="10.5" font-weight="bold">SEVSCVF</text>
<text x="1119" y="1239.2" textLength="46" lengthAdjust="spacingAndGlyphs" fill="#a8a8a8" stroke="#a8a8a8" stroke-width="1.3" font-size="10.5" font-weight="bold">INJWJNB</text>
<text x="607" y="1276.2" textLength="35" lengthAdjust="spacingAndGlyphs" fill="#a8a8a8" stroke="#a8a8a8" stroke-width="1.3" font-size="10.5" font-weight="bold">TLNNAZ</text>
<text x="607" y="1291.2" textLength="93" lengthAdjust="spacingAndGlyphs" fill="#a8a8a8" stroke="#a8a8a8" stroke-width="1.3" font-size="10.5" font-weight="bold">MYMG NFN CMT OZF</text>
<text x="968" y="1299.2" textLength="10" lengthAdjust="spacingAndGlyphs" fill="#a8a8a8" stroke="#a8a8a8" stroke-width="1.3" font-size="10.5" font-weight="bold">S</text>
<text x="1023" y="1300.2" textLength="32" lengthAdjust="spacingAndGlyphs" fill="#a8a8a8" stroke="#a8a8a8" stroke-width="1.3" font-size="10.5" font-weight="bold">MCTUL</text>
<text x="570" y="1424.2" textLength="8" lengthAdjust="spacingAndGlyphs" fill="#a8a8a8" stroke="#a8a8a8" stroke-width="1.3" font-size="10.5" font-weight="bold">J</text>
<text x="553" y="1461.2" textLength="25" lengthAdjust="spacingAndGlyphs" fill="#a8a8a8" stroke="#a8a8a8" stroke-width="1.3" font-size="10.5" font-weight="bold">MPZ</text>
<text x="556" y="1476.2" textLength="22" lengthAdjust="spacingAndGlyphs" fill="#a8a8a8" stroke="#a8a8a8" stroke-width="1.3" font-size="10.5" font-weight="bold">GJE</text>
<text x="570" y="1637.2" textLength="27" lengthAdjust="spacingAndGlyphs" fill="#a8a8a8" stroke="#a8a8a8" stroke-width="1.3" font-size="10.5" font-weight="bold">CXUX</text>
<text x="553" y="1653.2" textLength="57" lengthAdjust="spacingAndGlyphs" fill="#a8a8a8" stroke="#a8a8a8" stroke-width="1.3" font-size="10.5" font-weight="bold">HUMUGPFTG</text>
<text x="557" y="1666.2" textLength="51" lengthAdjust="spacingAndGlyphs" fill="#a8a8a8" stroke="#a8a8a8" stroke-width="1.3" font-size="10.5" font-weight="bold">MRF LDEH</text>
<text x="992" y="560.2" textLength="8" lengthAdjust="spacingAndGlyphs" fill="#a8a8a8" stroke="#a8a8a8" stroke-width="1.3" font-size="10.5" font-weight="bold">S</text>
<text x="992" y="701.2" textLength="8" lengthAdjust="spacingAndGlyphs" fill="#a8a8a8" stroke="#a8a8a8" stroke-width="1.3" font-size="10.5" font-weight="bold">W</text>
<text x="978" y="516.2" textLength="22" lengthAdjust="spacingAndGlyphs" fill="#a8a8a8" stroke="#a8a8a8" stroke-width="1.3" font-size="10.5" font-weight="bold">UOS</text>
<text x="981" y="530.2" textLength="19" lengthAdjust="spacingAndGlyphs" fill="#a8a8a8" stroke="#a8a8a8" stroke-width="1.3" font-size="10.5" font-weight="bold">NJT</text>
<text x="978" y="749.2" textLength="22" lengthAdjust="spacingAndGlyphs" fill="#a8a8a8" stroke="#a8a8a8" stroke-width="1.3" font-size="10.5" font-weight="bold">ROF</text>
<text x="981" y="764.2" textLength="19" lengthAdjust="spacingAndGlyphs" fill="#a8a8a8" stroke="#a8a8a8" stroke-width="1.3" font-size="10.5" font-weight="bold">OHO</text>
<text x="1048" y="630.2" textLength="37" lengthAdjust="spacingAndGlyphs" fill="#a8a8a8" stroke="#a8a8a8" stroke-width="1.3" font-size="10.5" font-weight="bold">OFPMDC</text>
<text x="1097" y="581.2" textLength="48" lengthAdjust="spacingAndGlyphs" fill="#a8a8a8" stroke="#a8a8a8" stroke-width="1.3" font-size="10.5" font-weight="bold">CORRW BV</text>
<text x="1097" y="594.2" textLength="48" lengthAdjust="spacingAndGlyphs" fill="#a8a8a8" stroke="#a8a8a8" stroke-width="1.3" font-size="10.5" font-weight="bold">YKZ RCBZ</text>
</g>
</svg></body></html>
